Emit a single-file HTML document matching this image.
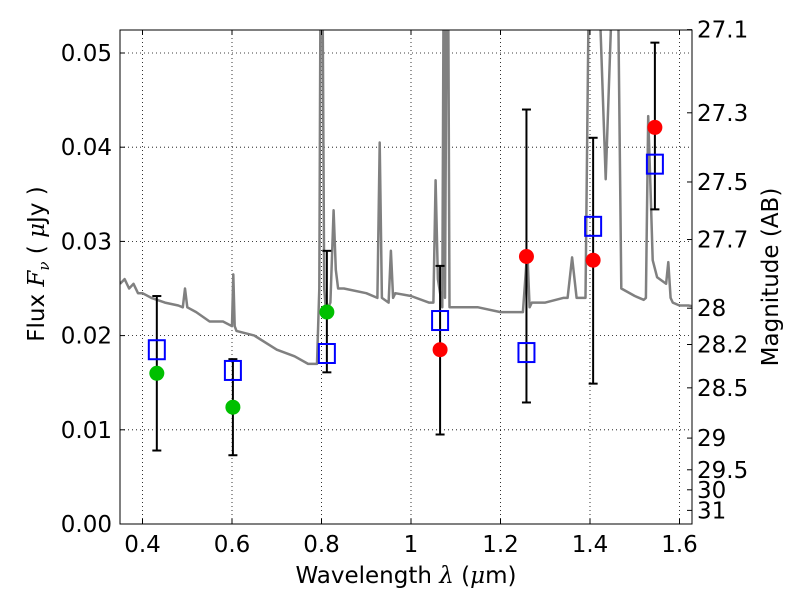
<!DOCTYPE html>
<html><head><meta charset="utf-8"><style>
body{margin:0;background:#fff;}
svg{display:block;font-family:"DejaVu Sans","Liberation Sans",sans-serif;}
</style></head><body>
<svg id="chart" width="800" height="600">
<defs><clipPath id="clip"><rect x="120" y="30" width="572" height="494"/></clipPath></defs>
<rect x="0" y="0" width="800" height="600" fill="#fff"/>
<g id="grid"></g>
<g id="spec" clip-path="url(#clip)"></g>
<g id="marks"></g>
<rect x="120" y="30" width="572" height="494" fill="none" stroke="#000" stroke-width="1"/>
<g id="axes"></g>
<text x="406" y="583" font-size="23" text-anchor="middle">Wavelength  <tspan font-style="italic" font-family="DejaVu Serif, serif">λ</tspan> (<tspan font-style="italic" font-family="DejaVu Serif, serif">μ</tspan>m)</text>
<text transform="translate(44,264) rotate(-90)" font-size="23" text-anchor="middle">Flux  <tspan font-style="italic" font-family="DejaVu Serif, serif">F</tspan><tspan font-style="italic" font-size="15" dy="5" font-family="DejaVu Serif, serif">ν</tspan><tspan dy="-5">  ( </tspan><tspan font-style="italic" font-family="DejaVu Serif, serif">μ</tspan>Jy )</text>
<text transform="translate(778,277) rotate(-90)" font-size="23" text-anchor="middle">Magnitude (AB)</text>
</svg>
<script>
const xTicks=[0.4,0.6,0.8,1.0,1.2,1.4,1.6];
const xTickLabels=["0.4","0.6","0.8","1","1.2","1.4","1.6"];
const yTicks=[0,0.01,0.02,0.03,0.04,0.05];
const yTickLabels=["0.00","0.01","0.02","0.03","0.04","0.05"];
const magTicks=[27.1,27.3,27.5,27.7,28,28.2,28.5,29,29.5,30,31];
const magTickLabels=["27.1","27.3","27.5","27.7","28","28.2","28.5","29","29.5","30","31"];
const specWl=[0.35,0.36,0.37,0.38,0.39,0.40,0.42,0.45,0.48,0.49,0.495,0.50,0.52,0.55,0.58,0.60,0.603,0.606,0.61,0.65,0.70,0.74,0.77,0.79,0.795,0.798,0.802,0.806,0.81,0.82,0.827,0.832,0.837,0.85,0.90,0.925,0.93,0.935,0.95,0.955,0.96,0.965,1.00,1.04,1.05,1.055,1.06,1.07,1.073,1.076,1.08,1.083,1.086,1.09,1.15,1.20,1.25,1.26,1.265,1.27,1.30,1.34,1.35,1.36,1.37,1.39,1.398,1.418,1.435,1.452,1.462,1.47,1.50,1.52,1.525,1.53,1.535,1.54,1.55,1.57,1.575,1.58,1.585,1.60,1.62,1.64];
const specFlux=[0.0255,0.026,0.025,0.0255,0.0245,0.0245,0.024,0.0235,0.0232,0.023,0.025,0.023,0.0225,0.0215,0.0215,0.021,0.0265,0.021,0.0205,0.020,0.0185,0.0178,0.017,0.017,0.025,0.06,0.06,0.025,0.0225,0.0235,0.0333,0.027,0.025,0.025,0.0245,0.024,0.0405,0.024,0.0235,0.029,0.024,0.0245,0.0242,0.0235,0.0235,0.0365,0.026,0.023,0.06,0.024,0.06,0.06,0.023,0.023,0.023,0.0225,0.0225,0.029,0.023,0.0235,0.0235,0.024,0.024,0.0283,0.024,0.024,0.06,0.06,0.0366,0.06,0.06,0.025,0.0242,0.0238,0.024,0.0433,0.036,0.028,0.0262,0.0255,0.0278,0.024,0.0235,0.0232,0.0232,0.023];
const blueWl=[0.432,0.602,0.812,1.065,1.258,1.407,1.545];
const blueFlux=[0.0185,0.0163,0.0181,0.0216,0.0182,0.0316,0.0382];
const errWl=[0.432,0.602,0.812,1.065,1.258,1.407,1.545];
const errLow=[0.0078,0.0073,0.0161,0.0095,0.0129,0.0149,0.0334];
const errHigh=[0.0242,0.0175,0.029,0.0274,0.044,0.041,0.0511];
const greenWl=[0.432,0.602,0.812];
const greenFlux=[0.016,0.0124,0.0225];
const redWl=[1.065,1.258,1.407,1.545];
const redFlux=[0.0185,0.0284,0.028,0.0421];

const NS="http://www.w3.org/2000/svg";
const X=v=>142.5+(v-0.4)*447.5;
const Y=v=>524-v*9420;
const magY=m=>Y(Math.pow(10,(23.9-m)/2.5));
function mk(tag,attrs,parent,text){const e=document.createElementNS(NS,tag);for(const k in attrs)e.setAttribute(k,attrs[k]);if(text!==undefined)e.textContent=text;document.getElementById(parent).appendChild(e);return e;}

xTicks.forEach((t,i)=>{
  const g=mk('line',{x1:X(t),x2:X(t),y1:30,y2:524,stroke:'#000','stroke-dasharray':'1,3','stroke-width':0.8},'grid');
  
  
  mk('line',{x1:X(t),x2:X(t),y1:524,y2:519,stroke:'#000'},'axes');
  mk('line',{x1:X(t),x2:X(t),y1:30,y2:35,stroke:'#000'},'axes');
  const l=mk('text',{x:X(t),y:552,'font-size':23,'text-anchor':'middle'},'axes',xTickLabels[i]);
  
  
});
yTicks.forEach((t,i)=>{
  const g=mk('line',{x1:120,x2:692,y1:Y(t),y2:Y(t),stroke:'#000','stroke-dasharray':'1,3','stroke-width':0.8},'grid');
  
  
  mk('line',{x1:120,x2:125,y1:Y(t),y2:Y(t),stroke:'#000'},'axes');
  const l=mk('text',{x:112,y:Y(t)+8,'font-size':23,'text-anchor':'end'},'axes',yTickLabels[i]);
  
  
});
magTicks.forEach((m,i)=>{
  const y=magY(m);
  mk('line',{x1:687,x2:692,y1:y,y2:y,stroke:'#000'},'axes');
  const l=mk('text',{x:697,y:y+8,'font-size':23},'axes',magTickLabels[i]);
  
  
});
const pts=specWl.map((w,i)=>X(w).toFixed(1)+','+Y(specFlux[i]).toFixed(1)).join(' ');
const sp=mk('polyline',{points:pts,fill:'none',stroke:'#808080','stroke-width':2.5,'stroke-linejoin':'round'},'spec');


errWl.forEach((w,i)=>{
  const x=X(w);
  const e=mk('line',{x1:x,x2:x,y1:Y(errLow[i]),y2:Y(errHigh[i]),stroke:'#000','stroke-width':2},'marks');
  
  
  mk('line',{x1:x-4.5,x2:x+4.5,y1:Y(errLow[i]),y2:Y(errLow[i]),stroke:'#000','stroke-width':2},'marks');
  mk('line',{x1:x-4.5,x2:x+4.5,y1:Y(errHigh[i]),y2:Y(errHigh[i]),stroke:'#000','stroke-width':2},'marks');
});
greenWl.forEach((w,i)=>{
  const c=mk('circle',{cx:X(w),cy:Y(greenFlux[i]),r:7.5,fill:'#00c000'},'marks');
  
  
});
redWl.forEach((w,i)=>{
  const c=mk('circle',{cx:X(w),cy:Y(redFlux[i]),r:7.5,fill:'#ff0000'},'marks');
  
  
});
blueWl.forEach((w,i)=>{
  const r=mk('rect',{x:X(w)-8,y:Y(blueFlux[i])-9.5,width:16,height:19,fill:'none',stroke:'#0000ff','stroke-width':2},'marks');
  
  
});
</script>
</body></html>
